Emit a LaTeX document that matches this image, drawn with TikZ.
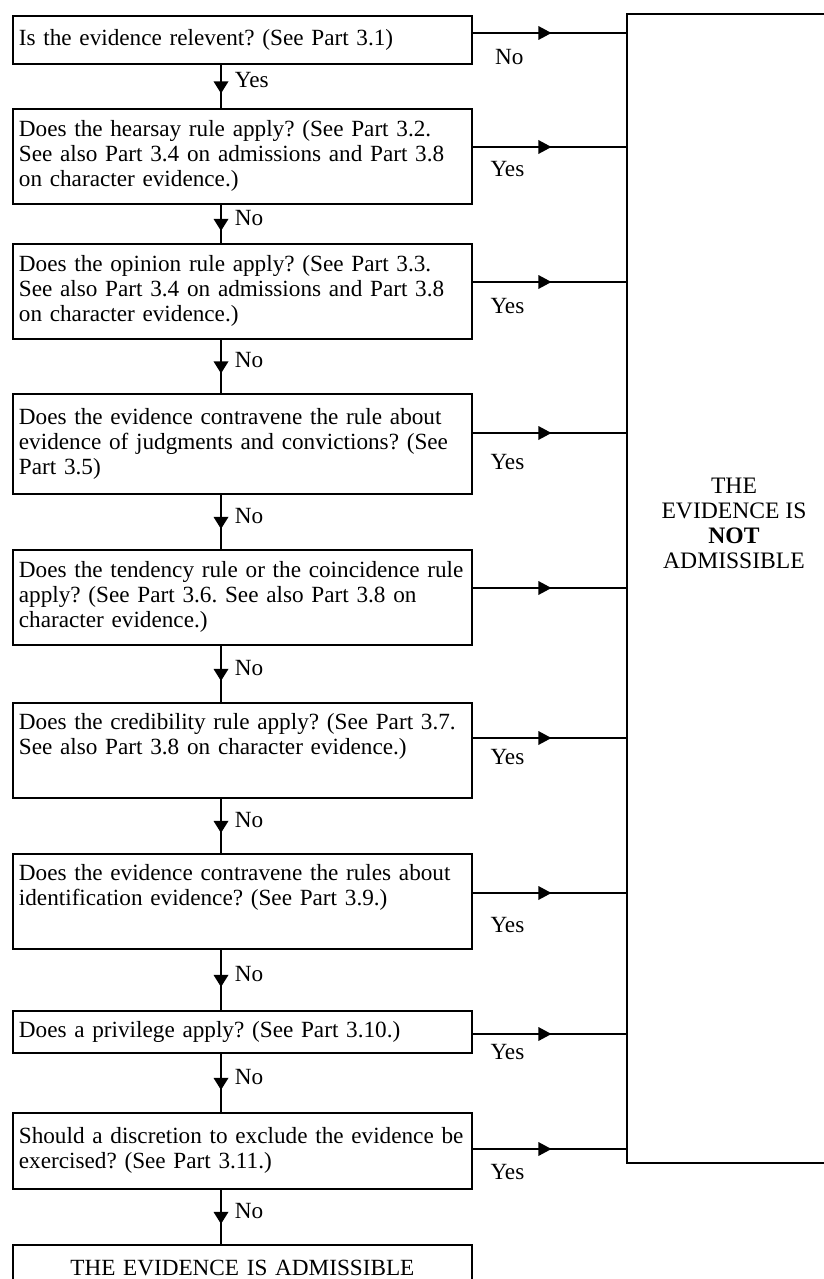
\documentclass[tikz,border=0pt]{standalone}
\usepackage{fontspec}
\setmainfont{Liberation Serif}
\usetikzlibrary{decorations.markings}
\newcommand{\bigf}{\fontsize{23.2}{25}\selectfont\frenchspacing}
\newcommand{\nbf}{\fontsize{23.6}{25}\selectfont}
\tikzset{
  qbox/.style={draw, line width=1.8pt, anchor=north west, text width=447pt, align=left,
    inner xsep=6pt, inner ysep=0pt, font=\bigf},
  vflow/.style={line width=1.8pt, postaction={decorate},
    decoration={markings, mark=at position 0.5 with {\fill (7pt,0pt) -- (-5pt,7.5pt) -- (-5pt,-7.5pt) -- cycle;}}},
  hflow/.style={line width=1.8pt, postaction={decorate},
    decoration={markings, mark=at position 0.5 with {\fill (2pt,0pt) -- (-11pt,7pt) -- (-11pt,-7pt) -- cycle;}}},
  vlab/.style={right, inner sep=0pt, xshift=13pt, yshift=6pt, font=\bigf},
  hlab/.style={anchor=north west, inner sep=0pt, font=\bigf},
}
\begin{document}
\begin{tikzpicture}[x=1pt,y=-1pt]
\useasboundingbox[fill=white] (0,0) rectangle (823,1279);
\coordinate (vx) at (221,0);

\node[qbox, minimum height=48pt] (b1) at (12,15) {\mbox{Is the evidence relevent? (See Part 3.1)}};
\node[qbox, minimum height=95pt] (b2) at (12,108) {\mbox{Does the hearsay rule apply? (See Part 3.2.}\\\mbox{See also Part 3.4 on admissions and Part 3.8}\\on character evidence.)};
\node[qbox, minimum height=95pt] (b3) at (12,243) {\mbox{Does the opinion rule apply? (See Part 3.3.}\\\mbox{See also Part 3.4 on admissions and Part 3.8}\\on character evidence.)};
\node[qbox, minimum height=100pt] (b4) at (12,393) {\mbox{Does the evidence contravene the rule about}\\\mbox{evidence of judgments and convictions? (See}\\Part 3.5)};
\node[qbox, minimum height=95pt] (b5) at (12,549) {\mbox{Does the tendency rule or the coincidence rule}\\\mbox{apply? (See Part 3.6. See also Part 3.8 on}\\character evidence.)};
\node[qbox, minimum height=95pt] (b6) at (12,702) {\mbox{Does the credibility rule apply? (See Part 3.7.}\\\mbox{See also Part 3.8 on character evidence.)}\\\strut};
\node[qbox, minimum height=95pt] (b7) at (12,853) {\mbox{Does the evidence contravene the rules about}\\\mbox{identification evidence? (See Part 3.9.)}\\\strut};
\node[qbox, minimum height=42pt] (b8) at (12,1010) {\mbox{Does a privilege apply? (See Part 3.10.)}};
\node[qbox, minimum height=76pt] (b9) at (12,1112) {\mbox{Should a discretion to exclude the evidence be}\\\mbox{exercised? (See Part 3.11.)}};
\node[qbox, align=center, minimum height=46pt] (b10) at (12,1244) {THE EVIDENCE IS ADMISSIBLE};

\node[draw, line width=1.8pt, anchor=north west, minimum width=240pt, minimum height=1149pt, inner sep=0pt] (nb) at (626,13) {};
\node[font=\nbf, align=center] (nt) at (734,523) {THE\\EVIDENCE IS\\\textbf{NOT}\\ADMISSIBLE};

% vertical connectors
\draw[vflow] (b1.south -| vx) -- (b2.north -| vx) node[vlab, midway]{Yes};
\draw[vflow] (b2.south -| vx) -- (b3.north -| vx) node[vlab, midway]{No};
\draw[vflow] (b3.south -| vx) -- (b4.north -| vx) node[vlab, midway]{No};
\draw[vflow] (b4.south -| vx) -- (b5.north -| vx) node[vlab, midway]{No};
\draw[vflow] (b5.south -| vx) -- (b6.north -| vx) node[vlab, midway]{No};
\draw[vflow] (b6.south -| vx) -- (b7.north -| vx) node[vlab, midway]{No};
\draw[vflow] (b7.south -| vx) -- (b8.north -| vx) node[vlab, midway]{No};
\draw[vflow] (b8.south -| vx) -- (b9.north -| vx) node[vlab, midway]{No};
\draw[vflow] (b9.south -| vx) -- (b10.north -| vx) node[vlab, midway]{No};

% horizontal connectors
\coordinate (h1) at ([yshift=-18pt]b1.north east);
\coordinate (h2) at ([yshift=-39pt]b2.north east);
\coordinate (h3) at ([yshift=-39pt]b3.north east);
\coordinate (h4) at ([yshift=-40pt]b4.north east);
\coordinate (h5) at ([yshift=-39pt]b5.north east);
\coordinate (h6) at ([yshift=-36pt]b6.north east);
\coordinate (h7) at ([yshift=-40pt]b7.north east);
\coordinate (h8) at ([yshift=-24pt]b8.north east);
\coordinate (h9) at ([yshift=-37pt]b9.north east);
\draw[hflow] (h1) -- (h1 -| nb.west) node[hlab, pos=0.14, yshift=-15pt]{No};
\draw[hflow] (h2) -- (h2 -| nb.west) node[hlab, pos=0.11, yshift=-13pt]{Yes};
\draw[hflow] (h3) -- (h3 -| nb.west) node[hlab, pos=0.11, yshift=-15pt]{Yes};
\draw[hflow] (h4) -- (h4 -| nb.west) node[hlab, pos=0.11, yshift=-20pt]{Yes};
\draw[hflow] (h5) -- (h5 -| nb.west);
\draw[hflow] (h6) -- (h6 -| nb.west) node[hlab, pos=0.11, yshift=-10pt]{Yes};
\draw[hflow] (h7) -- (h7 -| nb.west) node[hlab, pos=0.11, yshift=-23pt]{Yes};
\draw[hflow] (h8) -- (h8 -| nb.west) node[hlab, pos=0.11, yshift=-9pt]{Yes};
\draw[hflow] (h9) -- (h9 -| nb.west) node[hlab, pos=0.11, yshift=-14pt]{Yes};
\end{tikzpicture}
\end{document}
